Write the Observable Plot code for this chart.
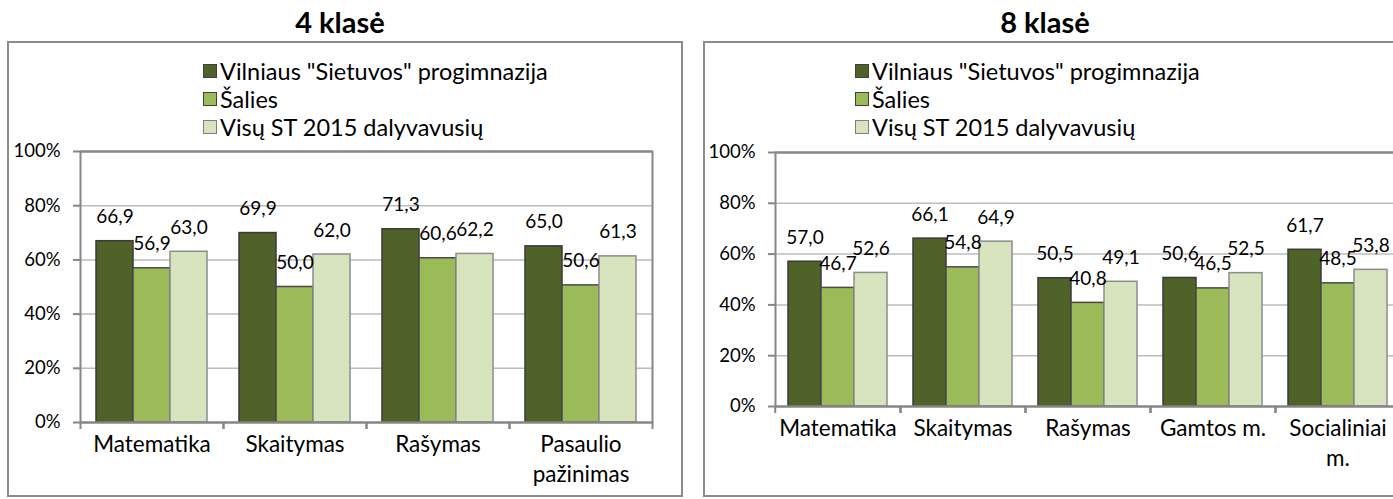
<!DOCTYPE html>
<html><head><meta charset="utf-8">
<script src="https://cdn.jsdelivr.net/npm/d3@7"></script>
<script src="https://cdn.jsdelivr.net/npm/@observablehq/plot@0.6"></script>
<style>
body{margin:0;background:#fff;overflow:hidden;font-family:Lato,sans-serif}
#wrap{position:relative;width:1393px;height:499px;overflow:hidden;background:#fff}
.box{position:absolute;border:2px solid #8c8c8c;box-sizing:border-box}
.title{position:absolute;text-align:center;font-weight:bold;font-size:29px;line-height:30px;color:#000}
.legend{position:absolute;font-size:23.5px;line-height:28px;color:#000}
.legend .row{display:flex;align-items:center;white-space:nowrap}
.legend .sw{width:14px;height:14px;border:1.5px solid #404040;margin-right:3px;box-sizing:border-box}
.chart{position:absolute;top:0;max-width:none !important}
</style></head><body><div id="wrap"></div>
<script>
// ---- data ----
const series = ['Vilniaus "Sietuvos" progimnazija', "Šalies", "Visų ST 2015 dalyvavusių"];
const colors = ["#4f6228", "#9bbb59", "#d7e4bd"];
const strokes = ["#3a3a3a", "#4a4a4a", "#8c8c8c"];

const titles = ["4 klasė", "8 klasė"];

const subjects4 = ["Matematika", "Skaitymas", "Rašymas", "Pasaulio pažinimas"];
const tickLabels4 = ["Matematika", "Skaitymas", "Rašymas", "Pasaulio\npažinimas"];
const school4 = [66.9, 69.9, 71.3, 65.0];
const country4 = [56.9, 50.0, 60.6, 50.6];
const all4 = [63.0, 62.0, 62.2, 61.3];

const subjects8 = ["Matematika", "Skaitymas", "Rašymas", "Gamtos m.", "Socialiniai m."];
const tickLabels8 = ["Matematika", "Skaitymas", "Rašymas", "Gamtos m.", "Socialiniai\nm."];
const school8 = [57.0, 66.1, 50.5, 50.6, 61.7];
const country8 = [46.7, 54.8, 40.8, 46.5, 48.5];
const all8 = [52.6, 64.9, 49.1, 52.5, 53.8];

const yTicks = [0, 20, 40, 60, 80, 100];

// ---- helpers ----
const fmt = v => v.toFixed(1).replace(".", ",");
const wrap = document.getElementById("wrap");

function el(cls, style, html) {
  const d = document.createElement("div");
  d.className = cls;
  Object.assign(d.style, style);
  if (html != null) d.textContent = html;
  wrap.appendChild(d);
  return d;
}

function legend(left, top) {
  const lg = el("legend", {left: left + "px", top: top + "px"});
  series.forEach((s, i) => {
    const r = document.createElement("div");
    r.className = "row";
    const sw = document.createElement("span");
    sw.className = "sw";
    sw.style.background = colors[i];
    sw.style.borderColor = i === 2 ? "#7f7f7f" : "#404040";
    const t = document.createElement("span");
    t.textContent = s;
    r.appendChild(sw); r.appendChild(t);
    lg.appendChild(r);
  });
}

function chart({subjects, tickLabels, values, left, width, mL, mR, mT, mB, padOuter}) {
  const rows = [];
  subjects.forEach((sub, i) => series.forEach((s, j) => rows.push({subject: sub, series: s, value: values[j][i]})));
  const step = (width - mL - mR) / subjects.length;
  const font = "Lato, sans-serif";
  const marks = [
    Plot.ruleY(yTicks.slice(1, -1), {stroke: "#bcbcbc", strokeWidth: 1.5}),
  ];
  series.forEach((s, j) => {
    marks.push(Plot.barY(rows.filter(r => r.series === s), {
      fx: "subject", x: "series", y: "value",
      fill: colors[j], stroke: strokes[j], strokeWidth: 1.5
    }));
  });
  marks.push(
    Plot.ruleY([0, 100], {stroke: "#868686", strokeWidth: 2}),
    Plot.frame({facet: "super", stroke: "#868686", strokeWidth: 2}),
    Plot.ruleX(subjects, {fx: d => d, x: null, y1: 0, y2: 0, insetBottom: -7, dx: -step / 2, stroke: "#868686", strokeWidth: 2}),
    Plot.ruleX(subjects, {fx: d => d, x: null, y1: 0, y2: 0, insetBottom: -7, dx: step / 2, stroke: "#868686", strokeWidth: 2}),
    Plot.text(rows, {fx: "subject", x: "series", y: "value", text: d => fmt(d.value), dy: -24, fontSize: 19, fill: "#000"}),
    Plot.axisY({ticks: yTicks, tickFormat: d => d + "%", tickSize: 7, tickPadding: 13, stroke: "#868686", strokeWidth: 2, fill: "#000", fontSize: 18.5, label: null}),
    Plot.axisFx({anchor: "bottom", tickSize: 0, tickPadding: 8, tickFormat: d => tickLabels[subjects.indexOf(d)], fill: "#000", fontSize: 22.5, lineHeight: 1.33, label: null})
  );
  const svg = Plot.plot({
    width, height: 499,
    marginLeft: mL, marginRight: mR, marginTop: mT, marginBottom: mB,
    style: {fontFamily: font, fontSize: "19px", color: "#000", background: "transparent", overflow: "visible", maxWidth: "none"},
    fx: {domain: subjects, padding: 0, label: null, axis: null},
    x: {domain: series, paddingInner: 0, paddingOuter: padOuter, axis: null},
    y: {domain: [0, 100], axis: null},
    marks
  });
  svg.classList.add("chart");
  svg.style.left = left + "px";
  svg.style.maxWidth = "none";
  wrap.appendChild(svg);
}

// ---- layout ----
el("box", {left: "7px", top: "41px", width: "676px", height: "456px"});
el("box", {left: "703px", top: "41px", width: "800px", height: "456px"});
el("title", {left: "0px", top: "7px", width: "680px"}, titles[0]);
el("title", {left: "690px", top: "7px", width: "710px"}, titles[1]);
legend(203, 57);
legend(855, 57);

chart({subjects: subjects4, tickLabels: tickLabels4, values: [school4, country4, all4],
  left: 0, width: 690, mL: 80, mR: 38, mT: 151, mB: 77, padOuter: 0.39});
chart({subjects: subjects8, tickLabels: tickLabels8, values: [school8, country8, all8],
  left: 690, width: 720, mL: 83, mR: 9, mT: 152, mB: 93, padOuter: 0.38});
</script></body></html>
